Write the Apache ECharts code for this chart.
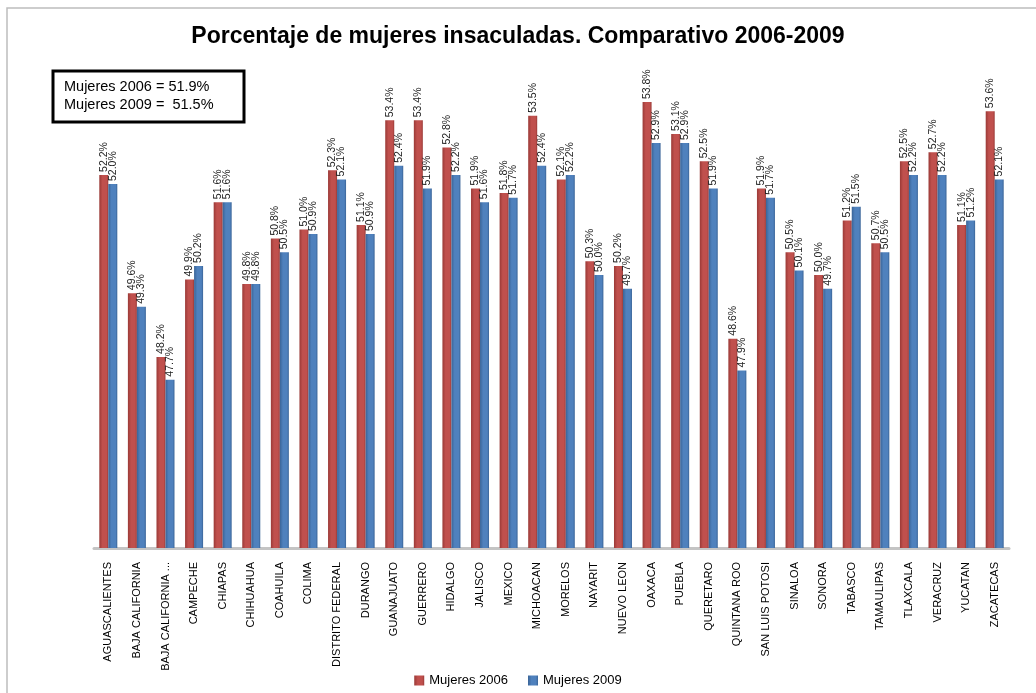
<!DOCTYPE html>
<html>
<head>
<meta charset="utf-8">
<script src="https://cdn.jsdelivr.net/npm/echarts@6/dist/echarts.min.js"></script>
<style>html,body{margin:0;padding:0;background:#fff}#c{width:1036px;height:693px}</style>
</head>
<body>
<div id="c"></div>
<script>
const categories = ["AGUASCALIENTES","BAJA CALIFORNIA","BAJA CALIFORNIA ...","CAMPECHE","CHIAPAS","CHIHUAHUA","COAHUILA","COLIMA","DISTRITO FEDERAL","DURANGO","GUANAJUATO","GUERRERO","HIDALGO","JALISCO","MEXICO","MICHOACAN","MORELOS","NAYARIT","NUEVO LEON","OAXACA","PUEBLA","QUERETARO","QUINTANA ROO","SAN LUIS POTOSI","SINALOA","SONORA","TABASCO","TAMAULIPAS","TLAXCALA","VERACRUZ","YUCATAN","ZACATECAS"];
const mujeres2006 = [52.2,49.6,48.2,49.9,51.6,49.8,50.8,51.0,52.3,51.1,53.4,53.4,52.8,51.9,51.8,53.5,52.1,50.3,50.2,53.8,53.1,52.5,48.6,51.9,50.5,50.0,51.2,50.7,52.5,52.7,51.1,53.6];
const mujeres2009 = [52.0,49.3,47.7,50.2,51.6,49.8,50.5,50.9,52.1,50.9,52.4,51.9,52.2,51.6,51.7,52.4,52.2,50.0,49.7,52.9,52.9,51.9,47.9,51.7,50.1,49.7,51.5,50.5,52.2,52.2,51.2,52.1];
const seriesNames = ["Mujeres 2006","Mujeres 2009"];
const summaryLines = ["Mujeres 2006 = 51.9%","Mujeres 2009 =  51.5%"];
const titleText = "Porcentaje de mujeres insaculadas. Comparativo 2006-2009";

const FONT = "'Liberation Sans', Arial, sans-serif";
function grad(c1, c2) {
  return new echarts.graphic.LinearGradient(0, 0, 1, 0, [
    {offset: 0, color: c2}, {offset: 0.35, color: c1}, {offset: 0.8, color: c1}, {offset: 1, color: c2}
  ]);
}
const labelCfg = {
  show: true, position: 'top', rotate: 90, align: 'left', verticalAlign: 'middle',
  distance: 3, fontSize: 10.5, color: '#222', fontFamily: FONT,
  formatter: p => p.value.toFixed(1) + '%'
};
const chart = echarts.init(document.getElementById('c'), null, {renderer: 'canvas'});
chart.setOption({
  animation: false,
  backgroundColor: '#fff',
  title: {
    text: titleText, left: 'center', top: 20,
    textStyle: {fontFamily: FONT, fontWeight: 'bold', fontSize: 23, color: '#000'}
  },
  legend: {
    data: seriesNames, bottom: 1, left: 'center', itemWidth: 10, itemHeight: 10, itemGap: 20,
    icon: 'rect', textStyle: {fontFamily: FONT, fontSize: 13, color: '#000'}
  },
  grid: {left: 94, right: 27, top: 93, bottom: 145},
  xAxis: {
    type: 'category', data: categories,
    axisLine: {lineStyle: {color: '#c4c4c4', width: 3}},
    axisTick: {show: false},
    axisLabel: {rotate: 90, interval: 0, margin: 14, fontSize: 11, color: '#000', fontFamily: FONT}
  },
  yAxis: {type: 'value', min: 44, max: 54, show: false, splitLine: {show: false}},
  series: [
    {name: seriesNames[0], type: 'bar', data: mujeres2006, barWidth: 9, barGap: '0%',
     itemStyle: {color: grad('#C0504D', '#9a3a37')}, label: labelCfg},
    {name: seriesNames[1], type: 'bar', data: mujeres2009, barWidth: 9, barGap: '0%',
     itemStyle: {color: grad('#4F81BD', '#3a6497')}, label: labelCfg}
  ],
  color: ['#C0504D', '#4F81BD'],
  graphic: [
    {type: 'rect', shape: {x: 7, y: 8, width: 1060, height: 720}, style: {fill: null, stroke: '#bdbdbd', lineWidth: 1.5}, silent: true},
    {type: 'rect', shape: {x: 53, y: 71, width: 191, height: 51}, style: {fill: '#fff', stroke: '#000', lineWidth: 3}},
    {type: 'text', left: 64, top: 78, style: {text: summaryLines.join('\n'), font: '14.5px ' + FONT, fill: '#000', lineHeight: 18}}
  ]
});
</script>
</body>
</html>
